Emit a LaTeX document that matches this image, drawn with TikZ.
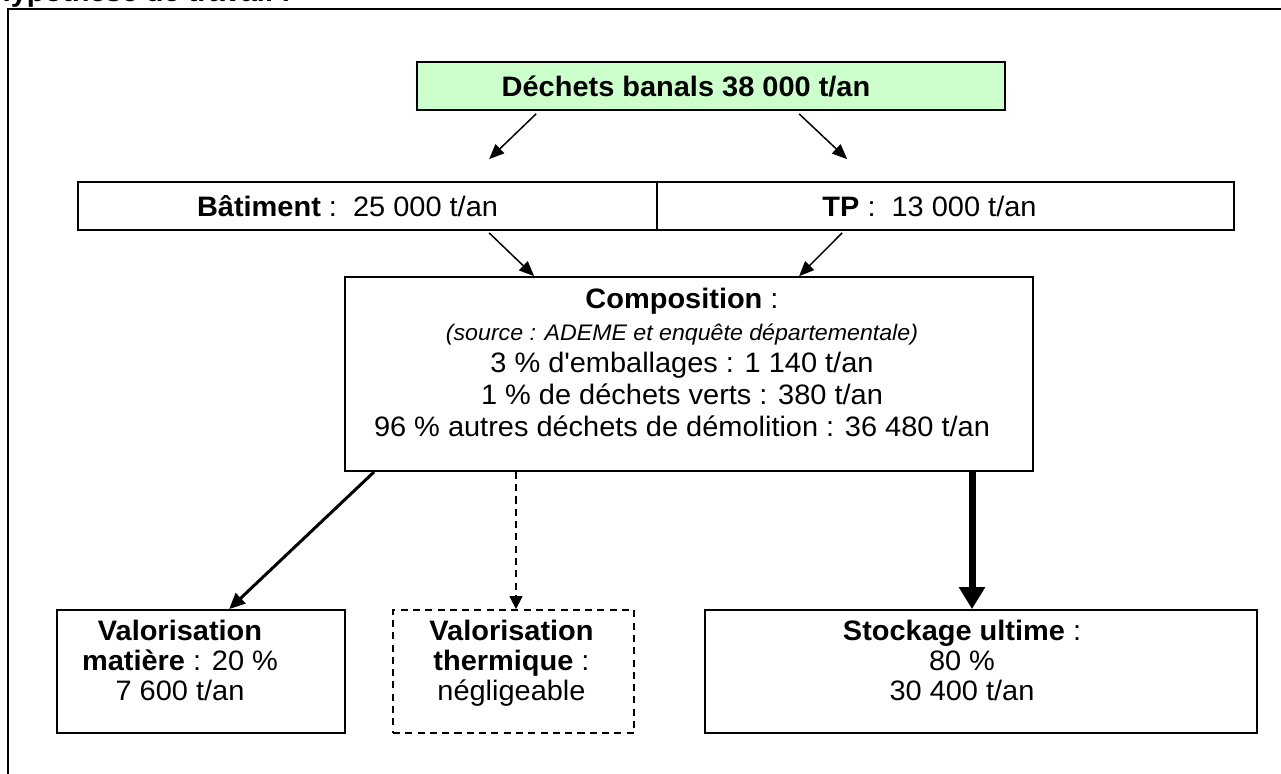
\documentclass[tikz,border=0pt]{standalone}
\usepackage{fontspec}
\setmainfont{Liberation Sans}[FakeStretch=1.03]
\usetikzlibrary{arrows.meta,calc,fit}
\definecolor{vertclair}{HTML}{CCFFCC}
\begin{document}
\begin{tikzpicture}[x=0.02cm,y=-0.02cm,line width=1pt,
	cadre/.style={draw,inner sep=0pt},
	texte/.style={align=center,inner sep=0pt,font=\fontsize{16}{18.2}\selectfont},
	fleche/.style={-{Triangle[length=0.3cm,width=0.25cm]},line width=0.85pt}]
	\useasboundingbox (0,0) rectangle (1281,774);
	\draw[line width=1.2pt] (8,800) -- (8,9) -- (1300,9);
	\node[anchor=base west,inner sep=0pt,font=\fontsize{16}{18}\selectfont\bfseries] (titre) at (-11,1.5) {Hypothèse de travail :};
	\node[cadre,fill=vertclair,fit={(417,62) (1005,110)}] (dechets) {};
	\node[texte,font=\fontsize{16}{18}\selectfont\bfseries] (dechetstxt) at ([xshift=-0.5cm]dechets.center) {Déchets banals 38 000 t/an};
	\node[cadre,fit={(78,182) (657,230)}] (bat) {};
	\node[cadre,fit={(657,182) (1234,230)}] (tp) {};
	\node[texte] (battxt) at ([xshift=-0.4cm]bat.center) {\textbf{Bâtiment} :\ \ 25 000 t/an};
	\node[texte] (tptxt) at ([xshift=-0.32cm]tp.center) {\textbf{TP} :\ \ 13 000 t/an};
	\node[cadre,fit={(345,277) (1033,471)}] (comp) {};
	\node[texte,anchor=north] (comptxt) at ($(comp.north)+(-7,11)$) {\textbf{Composition} :\\{\fontsize{12.8}{14}\selectfont\itshape (source : ADEME et enquête départementale)}\\3 \% d\textquotesingle emballages : 1 140 t/an\\1 \% de déchets verts : 380 t/an\\96 \% autres déchets de démolition : 36 480 t/an};
	\node[cadre,fit={(57,610) (345,733)}] (matiere) {};
	\node[cadre,dashed,dash pattern=on 4pt off 3pt,fit={(393,610) (634,733)}] (thermique) {};
	\node[cadre,fit={(705,610) (1257,733)}] (stock) {};
	\node[texte,anchor=north,font=\fontsize{16}{17.1}\selectfont] (matieretxt) at ($(matiere.north)+(-21,10)$) {\textbf{Valorisation}\\\textbf{matière} : 20 \%\\7 600 t/an};
	\node[texte,anchor=north,font=\fontsize{16}{17.1}\selectfont] (thermiquetxt) at ($(thermique.north)+(-2,10)$) {\textbf{Valorisation}\\\textbf{thermique} :\\négligeable};
	\node[texte,anchor=north,font=\fontsize{16}{17.1}\selectfont] (stocktxt) at ($(stock.north)+(-19,10)$) {\textbf{Stockage ultime} :\\80 \%\\30 400 t/an};
	\coordinate (stockin) at ([xshift=-0.18cm]stock.north);
	\coordinate (thermin) at ([xshift=0.05cm]thermique.north);
	\draw[fleche] ($(dechets.south west)+(120,3)$) -- ($(bat.north west)+(412,-22)$);
	\draw[fleche] ($(dechets.south west)+(383,3)$) -- ($(tp.north west)+(191,-22)$);
	\draw[fleche] ($(bat.south west)+(412,2)$) -- ($(comp.north west)+(190,0)$);
	\draw[fleche] ($(tp.south west)+(186,2)$) -- ($(comp.north west)+(455,0)$);
	\draw[-{Triangle[length=0.32cm,width=0.28cm]},line width=1.7pt] ($(comp.south west)+(30,0)$) -- ($(matiere.north west)+(173,0)$);
	\draw[-{Triangle[length=0.26cm,width=0.26cm]},line width=0.7pt,dash pattern=on 4pt off 3pt] (thermin |- comp.south) -- (thermin);
	\draw[-{Triangle[length=0.44cm,width=0.5cm]},line width=4pt] (stockin |- comp.south) -- (stockin);
\end{tikzpicture}
\end{document}
